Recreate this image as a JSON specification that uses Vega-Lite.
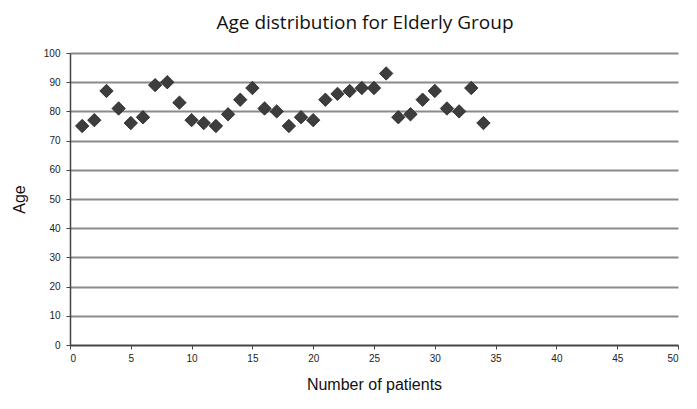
{
  "$schema": "https://vega.github.io/schema/vega-lite/v6.json",
  "width": 608,
  "height": 292,
  "autosize": {"type": "none"},
  "padding": {"left": 70, "top": 53, "right": 19, "bottom": 64},
  "background": "white",
  "title": {
    "text": "Age distribution for Elderly Group",
    "font": "Open Sans",
    "fontSize": 19,
    "fontWeight": "normal",
    "color": "#111",
    "anchor": "middle",
    "offset": 15,
    "dx": -9
  },
  "data": {
    "values": [
      {"patient": 1, "age": 75}, {"patient": 2, "age": 77}, {"patient": 3, "age": 87},
      {"patient": 4, "age": 81}, {"patient": 5, "age": 76}, {"patient": 6, "age": 78},
      {"patient": 7, "age": 89}, {"patient": 8, "age": 90}, {"patient": 9, "age": 83},
      {"patient": 10, "age": 77}, {"patient": 11, "age": 76}, {"patient": 12, "age": 75},
      {"patient": 13, "age": 79}, {"patient": 14, "age": 84}, {"patient": 15, "age": 88},
      {"patient": 16, "age": 81}, {"patient": 17, "age": 80}, {"patient": 18, "age": 75},
      {"patient": 19, "age": 78}, {"patient": 20, "age": 77}, {"patient": 21, "age": 84},
      {"patient": 22, "age": 86}, {"patient": 23, "age": 87}, {"patient": 24, "age": 88},
      {"patient": 25, "age": 88}, {"patient": 26, "age": 93}, {"patient": 27, "age": 78},
      {"patient": 28, "age": 79}, {"patient": 29, "age": 84}, {"patient": 30, "age": 87},
      {"patient": 31, "age": 81}, {"patient": 32, "age": 80}, {"patient": 33, "age": 88},
      {"patient": 34, "age": 76}
    ]
  },
  "mark": {
    "type": "point",
    "shape": "diamond",
    "filled": true,
    "size": 180,
    "color": "#3d3d3d",
    "opacity": 1,
    "stroke": "#222",
    "strokeWidth": 0.8
  },
  "encoding": {
    "x": {
      "field": "patient",
      "type": "quantitative",
      "scale": {"domain": [0, 50], "nice": false},
      "axis": {
        "title": "Number of patients",
        "titleFont": "Liberation Sans",
        "titleFontSize": 16,
        "titleFontWeight": "normal",
        "titleColor": "#111",
        "titlePadding": 13,
        "values": [0, 5, 10, 15, 20, 25, 30, 35, 40, 45, 50],
        "labelFont": "Liberation Sans",
        "labelFontSize": 10,
        "labelColor": "#222",
        "labelPadding": 4,
        "grid": false,
        "domainColor": "#444",
        "domainWidth": 1.5,
        "tickColor": "#444",
        "tickSize": 4,
        "tickWidth": 1
      }
    },
    "y": {
      "field": "age",
      "type": "quantitative",
      "scale": {"domain": [0, 100], "nice": false},
      "axis": {
        "title": "Age",
        "titleFont": "Liberation Sans",
        "titleFontSize": 16,
        "titleFontWeight": "normal",
        "titleColor": "#111",
        "titlePadding": 16,
        "values": [0, 10, 20, 30, 40, 50, 60, 70, 80, 90, 100],
        "labelFont": "Liberation Sans",
        "labelFontSize": 10,
        "labelColor": "#222",
        "labelPadding": 6,
        "grid": true,
        "gridColor": "#8a8a8a",
        "gridWidth": 2,
        "gridOpacity": 1,
        "domainColor": "#444",
        "domainWidth": 1.5,
        "tickColor": "#444",
        "tickSize": 4,
        "tickWidth": 1
      }
    }
  },
  "config": {"view": {"stroke": null}}
}
